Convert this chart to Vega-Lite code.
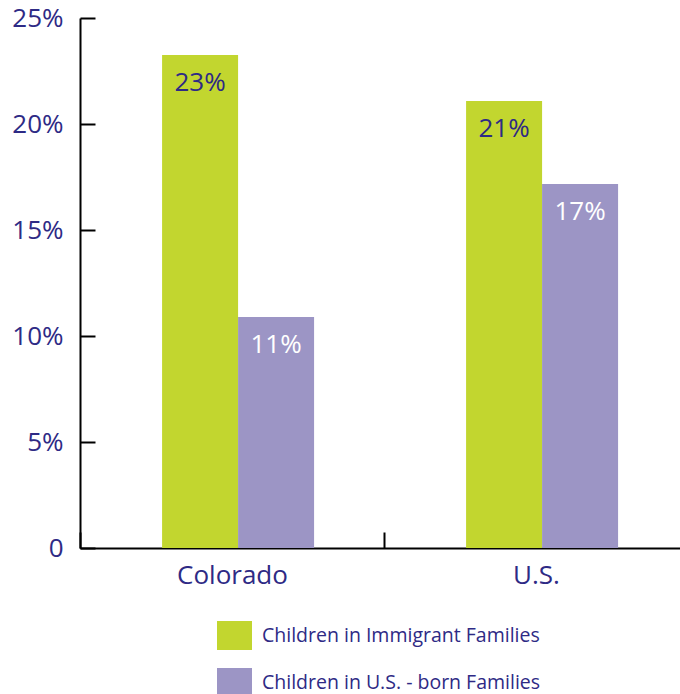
{
  "$schema": "https://vega.github.io/schema/vega-lite/v6.json",
  "width": 600,
  "height": 530,
  "autosize": {"type": "none"},
  "padding": {"left": 80, "top": 18, "right": 0, "bottom": 146},
  "config": {"view": {"stroke": null}, "font": "Open Sans"},
  "data": {
    "values": [
      {"region": "Colorado", "group": "Children in Immigrant Families", "value": 23.25, "label": "23%"},
      {"region": "Colorado", "group": "Children in U.S. - born Families", "value": 10.9, "label": "11%"},
      {"region": "U.S.", "group": "Children in Immigrant Families", "value": 21.08, "label": "21%"},
      {"region": "U.S.", "group": "Children in U.S. - born Families", "value": 17.17, "label": "17%"}
    ]
  },
  "encoding": {
    "x": {
      "field": "region",
      "type": "nominal",
      "sort": ["Colorado", "U.S."],
      "scale": {"paddingInner": 0, "paddingOuter": 0, "range": [0, 608]},
      "axis": {
        "title": null,
        "labelAngle": 0,
        "tickBand": "extent",
        "tickSize": -16,
        "tickWidth": 2,
        "tickColor": "#000000",
        "domainColor": "#000000",
        "domainWidth": 2,
        "labelFontSize": 26,
        "labelColor": "#2e2a85",
        "labelPadding": 30,
        "labelFont": "Open Sans"
      }
    },
    "xOffset": {
      "field": "group",
      "type": "nominal",
      "sort": ["Children in Immigrant Families", "Children in U.S. - born Families"],
      "scale": {"paddingInner": 0, "paddingOuter": 1, "align": 0.54}
    },
    "y": {
      "field": "value",
      "type": "quantitative",
      "scale": {"domain": [0, 25], "nice": false},
      "axis": {
        "title": null,
        "grid": false,
        "values": [0, 5, 10, 15, 20, 25],
        "labelExpr": "datum.value == 0 ? '0' : datum.value + '%'",
        "tickSize": -15,
        "tickWidth": 2,
        "tickColor": "#000000",
        "domainColor": "#000000",
        "domainWidth": 2,
        "labelFontSize": 26,
        "labelColor": "#2e2a85",
        "labelPadding": 32,
        "labelFont": "Open Sans"
      }
    }
  },
  "layer": [
    {
      "mark": {"type": "bar"},
      "encoding": {
        "color": {
          "field": "group",
          "type": "nominal",
          "sort": ["Children in Immigrant Families", "Children in U.S. - born Families"],
          "scale": {
            "domain": ["Children in Immigrant Families", "Children in U.S. - born Families"],
            "range": ["#c2d62f", "#9c95c5"]
          },
          "legend": {
            "title": null,
            "orient": "none",
            "legendX": 137,
            "legendY": 600,
            "direction": "vertical",
            "symbolType": "M-1,-0.83H1V0.83H-1Z",
            "symbolSize": 1225,
            "symbolStrokeWidth": 0,
            "symbolOpacity": 1,
            "labelFontSize": 19.5,
            "labelColor": "#2e2a85",
            "labelFont": "Open Sans",
            "labelOffset": 10,
            "rowPadding": 14,
            "padding": 0,
            "labelLimit": 400
          }
        }
      }
    },
    {
      "mark": {"type": "text", "baseline": "top", "dy": 15, "fontSize": 26, "font": "Open Sans"},
      "encoding": {
        "text": {"field": "label"},
        "color": {
          "condition": {"test": "datum.group === 'Children in Immigrant Families'", "value": "#2e2a85"},
          "value": "#ffffff"
        }
      }
    }
  ]
}
